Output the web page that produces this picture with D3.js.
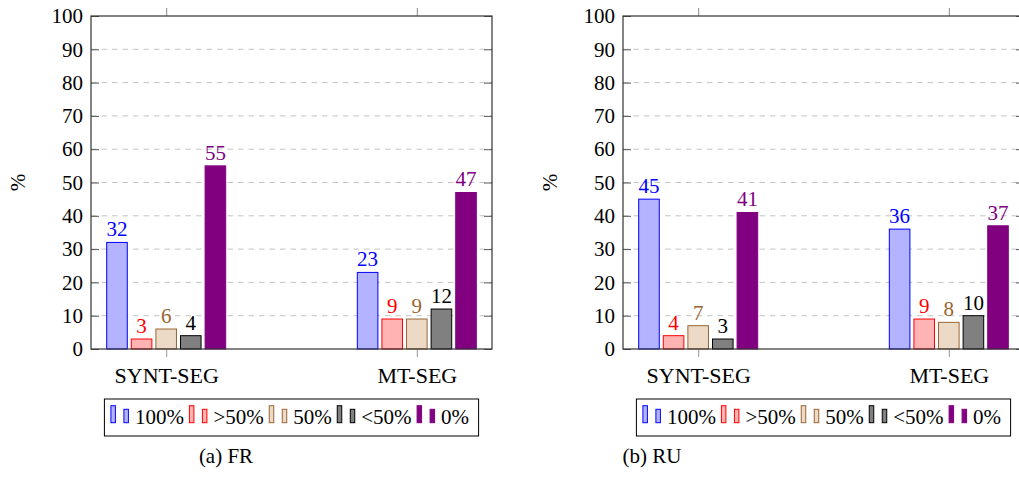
<!DOCTYPE html>
<html>
<head>
<meta charset="utf-8">
<script src="https://cdn.jsdelivr.net/npm/d3@7"></script>
<style>
  body { margin: 0; background: #fff; }
</style>
</head>
<body>
<div id="chart"></div>
<script>
const categories = ['SYNT-SEG', 'MT-SEG'];
const series = ['100%', '>50%', '50%', '<50%', '0%'];
const legendLabels = ['100%', '>50%', '50%', '<50%', '0%'];

// one value per series, per category
const frSynt = [32, 3, 6, 4, 55];
const frMt = [23, 9, 9, 12, 47];
const ruSynt = [45, 4, 7, 3, 41];
const ruMt = [36, 9, 8, 10, 37];

const yTicks = [0, 10, 20, 30, 40, 50, 60, 70, 80, 90, 100];
const captions = ['(a) FR', '(b) RU'];

const FONT = "'Liberation Serif'";
const STROKES = ['#0000ff', '#ff0000', '#996633', '#000000', '#800080'];
const FILLS = ['#b3b3ff', '#ffb3b3', '#ecd9c6', '#808080', '#800080'];
const LABELS = ['#0000ff', '#ff0000', '#996633', '#000000', '#800080'];

const width = 1019;
const height = 483;
const plotW = 401;
const plotH = 333;
const plotTop = 16;

const panels = [
  { left: 91, caption: captions[0], captionX: 226, rows: [frSynt, frMt] },
  { left: 623, caption: captions[1], captionX: 652, rows: [ruSynt, ruMt] },
];

const svg = d3.select('#chart')
  .append('svg')
  .attr('width', width)
  .attr('height', height)
  .attr('font-family', FONT);

const x = d3.scalePoint()
  .domain(categories)
  .range([0, plotW])
  .padding(0.3);

const inner = d3.scaleBand()
  .domain(series)
  .range([-61.5, 61.5])
  .paddingInner(0.163)
  .paddingOuter(0.0815);

const y = d3.scaleLinear()
  .domain([0, 100])
  .range([plotH, 0]);

panels.forEach((p) => {
  const g = svg.append('g')
    .attr('transform', `translate(${p.left},${plotTop})`);

  // grid
  g.append('g')
    .selectAll('line')
    .data(yTicks.filter((t) => t > 0 && t < 100))
    .enter().append('line')
      .attr('x1', 0)
      .attr('x2', plotW)
      .attr('y1', (d) => y(d))
      .attr('y2', (d) => y(d))
      .attr('stroke', '#c4c4c4')
      .attr('stroke-width', 1)
      .attr('stroke-dasharray', '5.5,5');

  // bars
  const data = [];
  categories.forEach((c, i) => {
    series.forEach((s, j) => {
      data.push({ cat: c, s, j, value: p.rows[i][j] });
    });
  });

  g.append('g')
    .selectAll('rect')
    .data(data)
    .enter().append('rect')
      .attr('x', (d) => x(d.cat) + inner(d.s))
      .attr('y', (d) => y(d.value))
      .attr('width', inner.bandwidth())
      .attr('height', (d) => plotH - y(d.value))
      .attr('fill', (d) => FILLS[d.j])
      .attr('stroke', (d) => STROKES[d.j])
      .attr('stroke-width', 1);

  g.append('g')
    .selectAll('text')
    .data(data)
    .enter().append('text')
      .attr('x', (d) => x(d.cat) + inner(d.s) + inner.bandwidth() / 2)
      .attr('y', (d) => y(d.value) - 6)
      .attr('text-anchor', 'middle')
      .attr('font-size', 21)
      .attr('font-family', FONT)
      .attr('fill', (d) => LABELS[d.j])
      .text((d) => d.value);

  // axes
  const yAxis = d3.axisLeft(y)
    .tickValues(yTicks)
    .tickSize(-8)
    .tickPadding(8)
    .tickSizeOuter(0);
  const yAxisR = d3.axisRight(y)
    .tickValues(yTicks)
    .tickSize(-8)
    .tickSizeOuter(0)
    .tickFormat('');
  const xAxis = d3.axisBottom(x)
    .tickSize(8)
    .tickPadding(10)
    .tickSizeOuter(0);
  const xAxisT = d3.axisTop(x)
    .tickSize(8)
    .tickSizeOuter(0)
    .tickFormat('');

  const ya = g.append('g').call(yAxis).attr('font-family', FONT);
  ya.selectAll('text')
    .attr('font-size', 21)
    .attr('fill', '#000');
  ya.selectAll('line').attr('stroke', '#555');

  g.append('g')
    .attr('transform', `translate(${plotW},0)`)
    .call(yAxisR)
    .selectAll('line').attr('stroke', '#555');

  const xa = g.append('g')
    .attr('transform', `translate(0,${plotH})`)
    .call(xAxis)
    .attr('font-family', FONT);
  xa.selectAll('text')
    .attr('font-size', 22)
    .attr('fill', '#000');
  xa.selectAll('line').attr('stroke', '#999');

  g.append('g')
    .call(xAxisT)
    .selectAll('line').attr('stroke', '#888');

  g.selectAll('.domain').remove();

  // frame
  g.append('rect')
    .attr('width', plotW)
    .attr('height', plotH)
    .attr('fill', 'none')
    .attr('stroke', '#333')
    .attr('stroke-width', 1.2);

  g.append('text')
    .attr('transform', `translate(-66,${plotH / 2}) rotate(-90)`)
    .attr('text-anchor', 'middle')
    .attr('font-size', 21)
    .attr('font-family', FONT)
    .text('%');

  // legend
  const legend = svg.append('g');
  const items = legend.selectAll('g')
    .data(legendLabels)
    .enter().append('g');

  let cursor = 0;
  items.each(function (d, j) {
    const it = d3.select(this);
    it.append('rect')
      .attr('x', cursor)
      .attr('y', -17)
      .attr('width', 4.5)
      .attr('height', 17)
      .attr('fill', FILLS[j])
      .attr('stroke', STROKES[j]);
    it.append('rect')
      .attr('x', cursor + 13)
      .attr('y', -13.4)
      .attr('width', 4.5)
      .attr('height', 13.4)
      .attr('fill', FILLS[j])
      .attr('stroke', STROKES[j]);
    const t = it.append('text')
      .attr('x', cursor + 24)
      .attr('y', 1.5)
      .attr('font-size', 21)
      .attr('font-family', FONT)
      .text(d);
    cursor += 24 + t.node().getComputedTextLength() + 5.5;
  });
  const contentW = cursor - 5.5;
  const boxW = contentW + 16;
  const boxX = p.left + plotW / 2 - boxW / 2;
  legend.attr('transform', `translate(${boxX + 6.5},422.7)`);
  legend.insert('rect', ':first-child')
    .attr('x', -6.5)
    .attr('y', -23.7)
    .attr('width', boxW)
    .attr('height', 37)
    .attr('fill', '#fff')
    .attr('stroke', '#000')
    .attr('stroke-width', 1);

  svg.append('text')
    .attr('x', p.captionX)
    .attr('y', 463)
    .attr('text-anchor', 'middle')
    .attr('font-size', 21)
    .attr('font-family', FONT)
    .text(p.caption);
});
</script>
</body>
</html>
